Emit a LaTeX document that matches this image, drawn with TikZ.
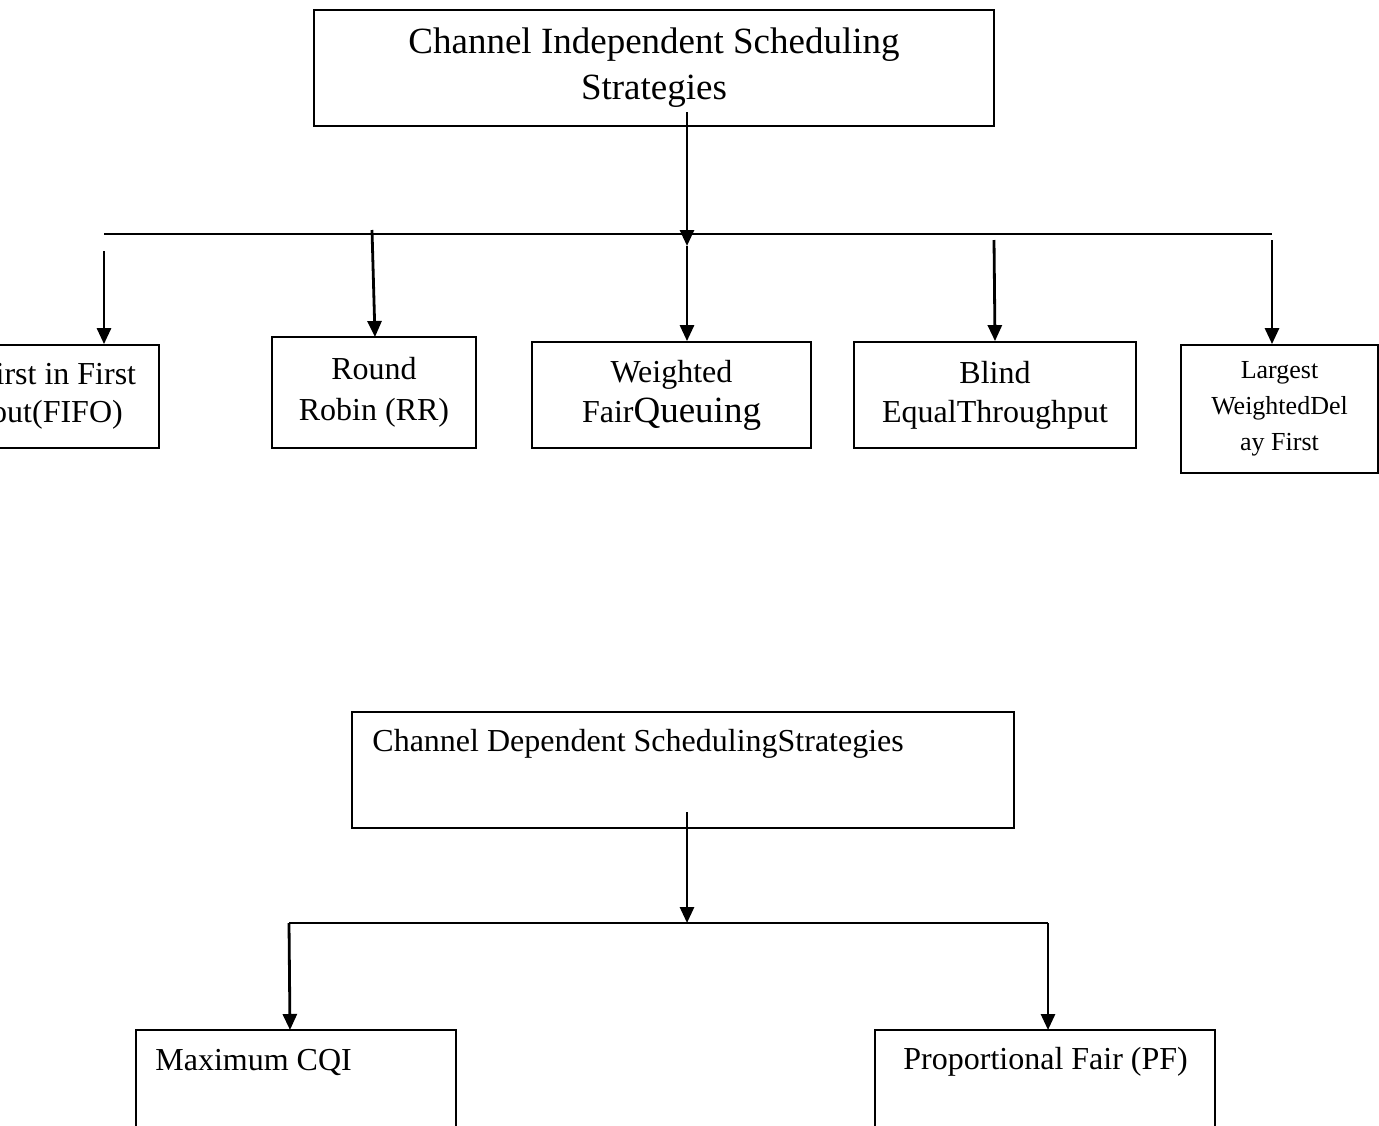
\documentclass[tikz,border=0pt]{standalone}
\usepackage{fontspec}
\setmainfont{Liberation Serif}
\usetikzlibrary{positioning,arrows.meta}
\tikzset{
  box/.style={draw,line width=0.9pt,rectangle,inner sep=0pt,align=center},
  arr/.style={line width=1.4pt,-{Triangle[length=8pt,width=7pt]}},
  bus/.style={line width=1.3pt}
}

\begin{document}
\begin{tikzpicture}[x=0.5pt,y=-0.5pt]
\useasboundingbox (0,0) rectangle (1379,1125);
\clip (0,0) rectangle (1379,1125);
% channel independent part
\node[box,minimum width=340pt,minimum height=58pt,font=\fontsize{18.5}{23}\selectfont]
  (cis) at (654,68) {Channel Independent Scheduling\\Strategies};
\node[box,minimum width=102pt,minimum height=51.5pt,font=\fontsize{16}{19}\selectfont]
  (fifo) at (57,396.5) {First in First\\out(FIFO)};
\node[box,minimum width=102pt,minimum height=55.5pt,font=\fontsize{16}{20.5}\selectfont]
  (rr) at (374,392.5) {Round\\Robin (RR)};
\node[box,minimum width=139.5pt,minimum height=53pt,font=\fontsize{16}{20}\selectfont]
  (wfq) at (671.5,395) {Weighted\\Fair{\fontsize{18.5}{20}\selectfont Queuing}};
\node[box,minimum width=141pt,minimum height=53pt,font=\fontsize{16}{19.5}\selectfont]
  (bet) at (995,395) {Blind\\EqualThroughput};
\node[box,minimum width=98.5pt,minimum height=64pt,font=\fontsize{13}{18}\selectfont]
  (lwdf) at (1279.5,409) {Largest\\WeightedDel\\ay First};
\coordinate (cisout) at (687,112);
\coordinate (bus1l) at (104,234);
\coordinate (bus1r) at (1272,234);
\coordinate (bus1c) at (687,234);
\draw[bus] (bus1l) -- (bus1r);
\draw[arr] (cisout) -- ([yshift=-6pt]bus1c);
\draw[arr] ([yshift=-6pt]bus1c) -- (wfq.north -| bus1c);
\draw[arr] (104,251) -- (fifo.north -| bus1l);
\draw[arr] (372,230) -- (375,337);
\draw[arr] (994,240) -- (bet.north);
\draw[arr] (1272,240) -- (lwdf.north -| bus1r);
% channel dependent part
\node[box,minimum width=331pt,minimum height=58pt] (cds) at (683,770) {};
\node[anchor=west,inner sep=0pt,font=\fontsize{16}{20}\selectfont]
  (cdslabel) at (372,744) {Channel Dependent SchedulingStrategies};
\node[box,minimum width=160pt,minimum height=80pt] (cqi) at (296,1110) {};
\node[anchor=west,inner sep=0pt,font=\fontsize{16}{20}\selectfont]
  (cqilabel) at (155,1062) {Maximum CQI};
\node[box,minimum width=170pt,minimum height=80pt] (pf) at (1045,1110) {};
\node[anchor=west,inner sep=0pt,font=\fontsize{16}{20}\selectfont]
  (pflabel) at (903,1062) {Proportional Fair (PF)};
\coordinate (cdsout) at (687,812);
\coordinate (bus2l) at (289,923);
\coordinate (bus2r) at (1048,923);
\coordinate (bus2c) at (687,923);
\draw[bus] (bus2l) -- (bus2r);
\draw[arr] (cdsout) -- (bus2c);
\draw[arr] (bus2l) -- (290,1030);
\draw[arr] (bus2r) -- (1048,1030);
\end{tikzpicture}
\end{document}
